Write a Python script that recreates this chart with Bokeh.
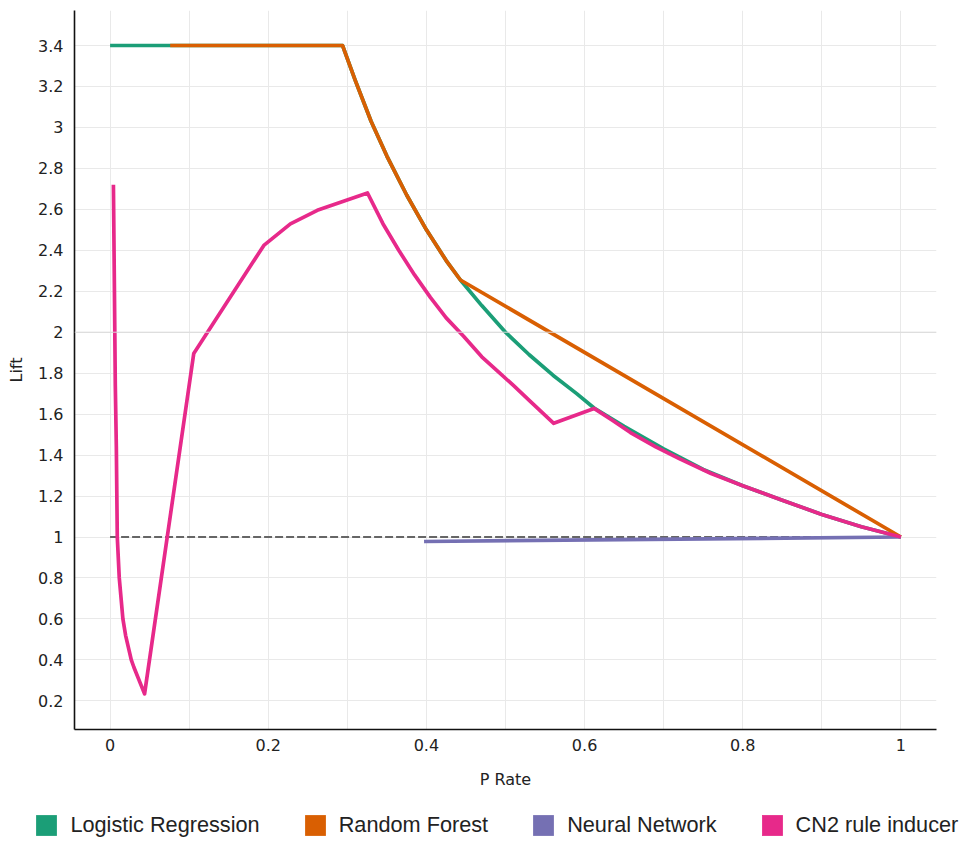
from bokeh.plotting import figure
from bokeh.layouts import column
from bokeh.models import (Range1d, FixedTicker, CustomJSTickFormatter, Legend,
                          LegendItem, Span)
from bokeh.embed import file_html
from bokeh.resources import INLINE

# ---- data ----
series_names = ["Logistic Regression", "Random Forest", "Neural Network", "CN2 rule inducer"]
series_colors = ["#1b9e77", "#d95f02", "#7570b3", "#e7298a"]

lr_x = [0.0, 0.294, 0.31, 0.33, 0.35, 0.375, 0.40, 0.425, 0.443, 0.47, 0.50, 0.53, 0.56,
        0.59, 0.612, 0.65, 0.70, 0.75, 0.80, 0.85, 0.90, 0.95, 1.0]
lr_y = [3.4, 3.4, 3.23, 3.03, 2.86, 2.67, 2.50, 2.35, 2.255, 2.13, 2.0, 1.89, 1.79,
        1.70, 1.63, 1.54, 1.43, 1.33, 1.25, 1.18, 1.11, 1.05, 1.0]

rf_x = [0.076, 0.294, 0.31, 0.33, 0.35, 0.375, 0.40, 0.425, 0.443, 1.0]
rf_y = [3.4, 3.4, 3.23, 3.03, 2.86, 2.67, 2.50, 2.35, 2.255, 1.0]

nn_x = [0.397, 1.0]
nn_y = [0.978, 1.0]

cn2_x = [0.0042, 0.0055, 0.0066, 0.0079, 0.0091, 0.0116, 0.0162, 0.0196, 0.0268,
         0.0301, 0.0436,
         0.1058, 0.1944, 0.228, 0.262, 0.3255, 0.345, 0.365, 0.385, 0.405, 0.425,
         0.447, 0.47, 0.49, 0.51, 0.532, 0.561, 0.612, 0.635, 0.658, 0.69, 0.721,
         0.76, 0.80, 0.85, 0.90, 0.95, 1.0]
cn2_y = [2.72, 2.2, 1.74, 1.44, 1.0, 0.80, 0.60, 0.52, 0.40,
         0.364, 0.234,
         1.896, 2.424, 2.529, 2.595, 2.68, 2.53, 2.40, 2.28, 2.17, 2.07,
         1.98, 1.88, 1.81, 1.74, 1.66, 1.555, 1.628, 1.57, 1.51, 1.44, 1.38,
         1.31, 1.25, 1.18, 1.11, 1.05, 1.0]

baseline_x = [0.0, 1.0]
baseline_y = [1.0, 1.0]

x_ticks = [0, 0.2, 0.4, 0.6, 0.8, 1.0]
x_grid = [0, 0.1, 0.2, 0.3, 0.4, 0.5, 0.6, 0.7, 0.8, 0.9, 1.0]
y_ticks = [0.2, 0.4, 0.6, 0.8, 1.0, 1.2, 1.4, 1.6, 1.8, 2.0, 2.2, 2.4, 2.6, 2.8,
           3.0, 3.2, 3.4]

# ---- main figure ----
p = figure(width=964, height=800, output_backend="svg", toolbar_location=None,
           x_range=Range1d(-0.045, 1.045), y_range=Range1d(0.06, 3.571),
           min_border_left=74, min_border_right=28, min_border_top=10,
           min_border_bottom=71, x_axis_label="P Rate", y_axis_label="Lift")
p.frame_align = False
p.outline_line_color = None
p.background_fill_color = "white"
p.border_fill_color = "white"

fmt = CustomJSTickFormatter(code="return String(Number(tick.toFixed(2)));")
for ax in (p.xaxis[0], p.yaxis[0]):
    ax.major_tick_line_color = None
    ax.minor_tick_line_color = None
    ax.major_tick_out = 0
    ax.major_tick_in = 0
    ax.axis_line_color = "#111111"
    ax.axis_line_width = 1.6
    ax.major_label_text_font = "DejaVu Sans"
    ax.major_label_text_font_size = "16px"
    ax.major_label_text_color = "#222222"
    ax.axis_label_text_font = "DejaVu Sans"
    ax.axis_label_text_font_size = "16px"
    ax.axis_label_text_font_style = "normal"
    ax.axis_label_text_color = "#222222"
    ax.formatter = fmt

p.xaxis[0].ticker = FixedTicker(ticks=x_ticks)
p.yaxis[0].ticker = FixedTicker(ticks=y_ticks)
p.xaxis[0].major_label_standoff = 9
p.yaxis[0].major_label_standoff = 11
p.xaxis[0].axis_label_standoff = 16
p.yaxis[0].axis_label_standoff = 9

p.xgrid[0].ticker = FixedTicker(ticks=x_grid)
p.ygrid[0].ticker = FixedTicker(ticks=y_ticks)
for g in (p.xgrid[0], p.ygrid[0]):
    g.grid_line_color = "#e9e9e9"
    g.grid_line_width = 1

p.add_layout(Span(location=2.0, dimension="width", line_color="#d9d9d9", line_width=1))

# baseline
p.line(baseline_x, baseline_y, line_color="#666666", line_width=1.8, line_dash="8 3")

xs = [lr_x, rf_x, nn_x, cn2_x]
ys = [lr_y, rf_y, nn_y, cn2_y]
for sx, sy, c in zip(xs, ys, series_colors):
    p.line(sx, sy, line_color=c, line_width=3.7, line_join="round")

# ---- legend strip (separate full-width figure so nothing is clipped) ----
lg = figure(width=964, height=44, output_backend="svg", toolbar_location=None,
            x_range=Range1d(0, 1), y_range=Range1d(0, 1),
            min_border_left=0, min_border_right=0, min_border_top=0,
            min_border_bottom=0, x_axis_type=None, y_axis_type=None)
lg.frame_align = False
lg.outline_line_color = None
lg.grid.visible = False
lg.background_fill_color = "white"
lg.border_fill_color = "white"

nan = float("nan")
items = []
for name, c in zip(series_names, series_colors):
    # swatch proxy: a box glyph with no visible extent, only used by the legend
    r = lg.quad(left=[nan], right=[nan], top=[nan], bottom=[nan],
                fill_color=c, line_color=None)
    items.append(LegendItem(label=name, renderers=[r]))

legend = Legend(items=items, orientation="horizontal", location=(33.4, 6.3),
                glyph_width=26, glyph_height=26, label_standoff=11, spacing=42,
                padding=0, margin=0, border_line_color=None,
                background_fill_alpha=0, label_text_font="Liberation Sans",
                label_text_font_size="21.7px", label_text_color="#222222")
lg.add_layout(legend)

layout = column(p, lg, spacing=0)
open("out.html", "w").write(file_html(layout, INLINE))
